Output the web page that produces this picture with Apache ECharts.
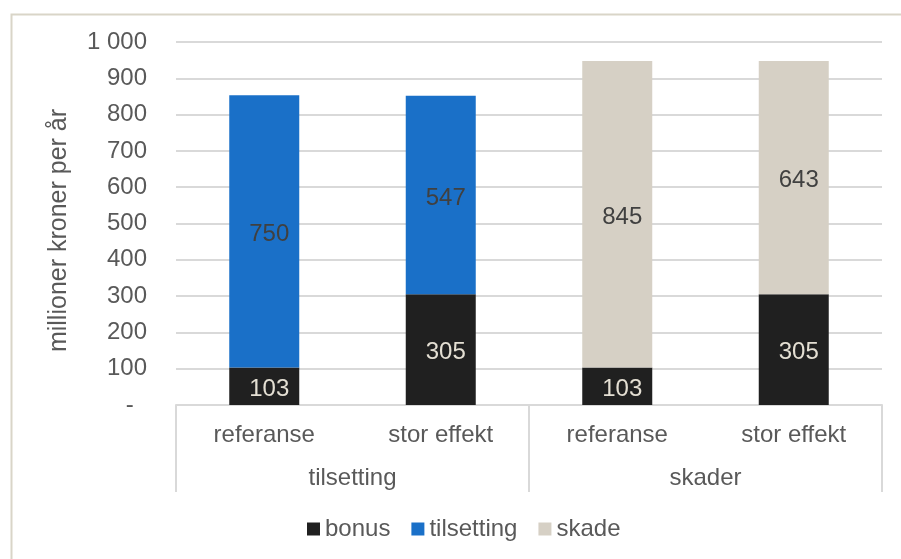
<!DOCTYPE html>
<html>
<head>
<meta charset="utf-8">
<script src="https://cdn.jsdelivr.net/npm/echarts@6/dist/echarts.min.js"></script>
<style>
  html, body { margin: 0; padding: 0; background: #ffffff; }
  #chart { width: 901px; height: 559px; }
</style>
</head>
<body>
<div id="chart"></div>
<script>
// Scenario labels (inner row) and their groups (outer row)
const scenarios = ['referanse', 'stor effekt', 'referanse', 'stor effekt'];
const groups = ['tilsetting', 'skader'];

// Costs in million NOK per year, stacked per bar
const bonus = [103, 305, 103, 305];
const tilsetting = [750, 547, null, null];
const skade = [null, null, 845, 643];

const yTicks = { min: 0, max: 1000, step: 100 };

const FONT = '"Liberation Sans", Arial, sans-serif';
const TEXT = '#595959';
const GRID = '#d9d9d9';

const chart = echarts.init(document.getElementById('chart'), null, { renderer: 'canvas' });

function label(color) {
  return {
    show: true,
    position: 'inside',
    offset: [5, 3],
    color: color,
    fontFamily: FONT,
    fontSize: 24,
    formatter: p => (p.value == null ? '' : String(p.value))
  };
}

chart.setOption({
  animation: false,
  backgroundColor: '#ffffff',
  textStyle: { fontFamily: FONT },
  graphic: [{
    type: 'rect',
    left: 9, top: 12,
    shape: { width: 1000, height: 1000 },
    style: { fill: 'none', stroke: '#d9d5c8', lineWidth: 2 },
    silent: true
  }],
  grid: { left: 176, right: 19, top: 42, bottom: 154, containLabel: false },
  legend: {
    left: 307, top: 517,
    padding: 0,
    icon: 'rect',
    itemWidth: 13, itemHeight: 13,
    itemGap: 21,
    textStyle: { color: TEXT, fontSize: 24, fontFamily: FONT },
    data: ['bonus', 'tilsetting', 'skade']
  },
  xAxis: [{
    type: 'category',
    data: scenarios,
    position: 'bottom',
    axisLine: { show: true, lineStyle: { color: GRID, width: 2 } },
    axisTick: { show: false },
    axisLabel: { color: TEXT, fontSize: 24, fontFamily: FONT, margin: 18, interval: 0 }
  }, {
    type: 'category',
    data: groups,
    position: 'bottom',
    axisLine: { show: false },
    axisTick: { show: true, length: 87, alignWithLabel: false, lineStyle: { color: GRID, width: 2 } },
    axisLabel: { color: TEXT, fontSize: 24, fontFamily: FONT, margin: 61, interval: 0 }
  }],
  yAxis: {
    type: 'value',
    min: yTicks.min, max: yTicks.max, interval: yTicks.step,
    name: 'millioner kroner per år',
    nameLocation: 'middle',
    nameGap: 104,
    nameRotate: 90,
    nameTextStyle: { color: TEXT, fontSize: 25, fontFamily: FONT, padding: [0, 14, 0, 0] },
    axisLine: { show: false },
    axisTick: { show: false },
    splitLine: { lineStyle: { color: GRID, width: 2 } },
    axisLabel: {
      color: TEXT, fontSize: 24, fontFamily: FONT, margin: 29,
      formatter: v => (v === 0 ? '-  ' : String(v).replace(/\B(?=(\d{3})+(?!\d))/g, ' '))
    }
  },
  series: [{
    name: 'bonus', type: 'bar', stack: 'total', xAxisIndex: 0,
    barWidth: 70,
    data: bonus,
    itemStyle: { color: '#202020' },
    label: label('#e4dfd3')
  }, {
    name: 'tilsetting', type: 'bar', stack: 'total', xAxisIndex: 0,
    barWidth: 70,
    data: tilsetting,
    itemStyle: { color: '#1a70c8' },
    label: label('#404040')
  }, {
    name: 'skade', type: 'bar', stack: 'total', xAxisIndex: 0,
    barWidth: 70,
    data: skade,
    itemStyle: { color: '#d6d0c5' },
    label: label('#404040')
  }]
});
</script>
</body>
</html>
